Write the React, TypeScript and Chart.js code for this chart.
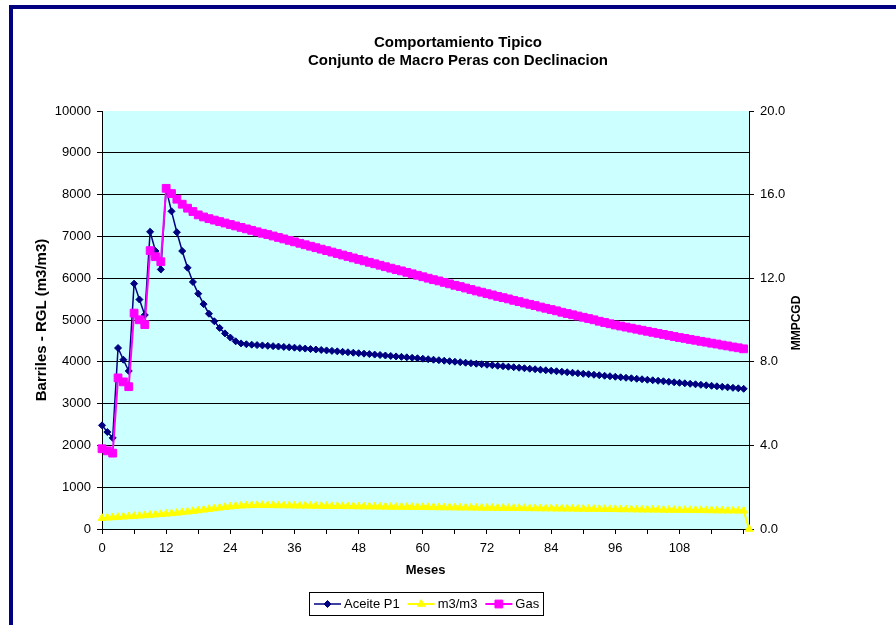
import React, { useEffect, useRef } from 'react';
import { Chart, registerables } from 'chart.js';

Chart.register(...registerables);

const FONT = '"Liberation Sans", Arial, Helvetica, sans-serif';

const titleLines = ['Comportamiento Tipico', 'Conjunto de Macro Peras con Declinacion'];
const xTitle = 'Meses';
const yTitle = 'Barriles - RGL (m3/m3)';
const y2Title = 'MMPCGD';
const seriesNames = ['Aceite P1', 'm3/m3', 'Gas'];
const seriesColors = ['#000080', '#FFFF00', '#FF00FF'];

// months 0..121 (category positions)
const months = Array.from({ length: 122 }, (_, i) => i);

// Aceite P1 (barriles), months 0..120
const aceite = [
  2480, 2320, 2180, 4330, 4050, 3780, 5870, 5490, 5120, 7110, 6650, 6210,
  8130, 7600, 7100, 6650, 6250, 5910, 5630, 5380, 5150, 4970, 4810, 4680,
  4580, 4490, 4440, 4420, 4410, 4400, 4392, 4383, 4374, 4365, 4356, 4347,
  4338, 4327, 4316, 4305, 4294, 4283, 4272, 4261, 4250, 4239, 4228, 4217,
  4206, 4195, 4184, 4173, 4162, 4151, 4140, 4129, 4118, 4107, 4096, 4085,
  4074, 4062, 4050, 4038, 4026, 4014, 4002, 3990, 3978, 3966, 3954, 3942,
  3930, 3918, 3906, 3894, 3882, 3870, 3858, 3846, 3834, 3822, 3810, 3798,
  3786, 3774, 3762, 3750, 3738, 3726, 3714, 3702, 3690, 3678, 3666, 3654,
  3642, 3630, 3618, 3606, 3594, 3582, 3570, 3558, 3546, 3534, 3522, 3510,
  3498, 3486, 3474, 3462, 3450, 3438, 3426, 3414, 3402, 3390, 3378, 3366,
  3354,
];

// RGL m3/m3, months 0..121
const rgl = [
  260, 268, 276, 284, 292, 300, 308, 316, 325, 334, 343, 352,
  362, 373, 385, 398, 412, 427, 442, 458, 474, 490, 506, 521,
  535, 547, 556, 562, 566, 568, 568, 567, 566, 564, 562, 560,
  558, 556, 555, 553, 551, 550, 548, 547, 545, 543, 542, 540,
  538, 537, 535, 534, 532, 530, 529, 527, 526, 524, 523, 521,
  520, 519, 517, 516, 515, 513, 512, 511, 509, 508, 507, 505,
  504, 503, 501, 500, 499, 497, 496, 495, 493, 492, 491, 489,
  488, 487, 485, 484, 483, 481, 480, 478, 477, 475, 474, 472,
  471, 469, 468, 466, 465, 463, 462, 460, 459, 457, 456, 454,
  453, 451, 450, 448, 447, 445, 444, 442, 441, 439, 438, 436,
  435, 0,
];

// Gas MMPCGD, months 0..120
const gas = [
  3.84, 3.74, 3.63, 7.23, 7.04, 6.81, 10.33, 10.01, 9.78, 13.32, 13.03, 12.79,
  16.30, 16.05, 15.78, 15.54, 15.35, 15.19, 15.03, 14.93, 14.85, 14.78, 14.71, 14.64,
  14.57, 14.50, 14.43, 14.36, 14.29, 14.22, 14.15, 14.09, 14.02, 13.95, 13.88, 13.81,
  13.74, 13.67, 13.60, 13.53, 13.46, 13.39, 13.32, 13.25, 13.18, 13.11, 13.04, 12.97,
  12.90, 12.83, 12.76, 12.69, 12.62, 12.55, 12.48, 12.41, 12.35, 12.28, 12.21, 12.14,
  12.07, 12.00, 11.93, 11.87, 11.80, 11.73, 11.66, 11.60, 11.53, 11.46, 11.39, 11.33,
  11.26, 11.20, 11.13, 11.07, 11.01, 10.94, 10.88, 10.81, 10.75, 10.69, 10.62, 10.56,
  10.50, 10.44, 10.37, 10.31, 10.25, 10.19, 10.13, 10.07, 10.01, 9.94, 9.88, 9.82,
  9.76, 9.71, 9.66, 9.61, 9.56, 9.51, 9.46, 9.41, 9.36, 9.31, 9.26, 9.21,
  9.16, 9.12, 9.07, 9.03, 8.98, 8.94, 8.89, 8.85, 8.80, 8.76, 8.71, 8.67,
  8.62,
];

const xMax = 121;
const xStep = 6;
const xLabelStep = 12;
const yMax = 10000;
const yStep = 1000;
const y2Max = 20;
const y2Step = 4;

const toPoints = (vals: number[]) => vals.map((v, i) => ({ x: months[i], y: v }));

function drawMarker(ctx: CanvasRenderingContext2D, style: string, x: number, y: number, color: string) {
  ctx.save();
  ctx.fillStyle = color;
  ctx.strokeStyle = color;
  ctx.lineWidth = 1;
  ctx.beginPath();
  if (style === 'rectRot') {
    const r = 3.5;
    ctx.moveTo(x - r, y);
    ctx.lineTo(x, y - r);
    ctx.lineTo(x + r, y);
    ctx.lineTo(x, y + r);
    ctx.closePath();
  } else if (style === 'triangle') {
    const r = 4.5;
    ctx.moveTo(x, y - r);
    ctx.lineTo(x + r * 0.866, y + r / 2);
    ctx.lineTo(x - r * 0.866, y + r / 2);
    ctx.closePath();
  } else {
    const h = 3.9;
    ctx.rect(x - h, y - h, 2 * h, 2 * h);
  }
  ctx.fill();
  ctx.stroke();
  ctx.restore();
}

const markerStyles = ['rectRot', 'triangle', 'rect'];

const decorPlugin = {
  id: 'decor',
  beforeDraw(chart: any) {
    const { ctx, chartArea: a } = chart;
    ctx.save();
    ctx.fillStyle = '#CCFFFF';
    ctx.fillRect(a.left, a.top, a.right - a.left, a.bottom - a.top);
    ctx.restore();
  },
  afterDraw(chart: any) {
    const { ctx, chartArea: a, width } = chart;
    ctx.save();
    ctx.fillStyle = '#000';
    ctx.textAlign = 'center';
    ctx.textBaseline = 'middle';
    ctx.font = `bold 15px ${FONT}`;
    titleLines.forEach((t, i) => ctx.fillText(t, width / 2, 34 + i * 18));

    ctx.font = `bold 13px ${FONT}`;
    ctx.fillText(xTitle, (a.left + a.right) / 2, 561);

    const cy = (a.top + a.bottom) / 2;
    ctx.save();
    ctx.font = `bold 15px ${FONT}`;
    ctx.translate(29, cy);
    ctx.rotate(-Math.PI / 2);
    ctx.fillText(yTitle, 0, 0);
    ctx.restore();

    ctx.save();
    ctx.font = `bold 12px ${FONT}`;
    ctx.translate(784, cy + 3);
    ctx.rotate(-Math.PI / 2);
    ctx.fillText(y2Title, 0, 0);
    ctx.restore();

    // legend
    ctx.font = `13px ${FONT}`;
    const lineLen = 27;
    const gapAfterLine = 3;
    const gapItem = 8;
    const widths = seriesNames.map((n) => ctx.measureText(n).width);
    const total = widths.reduce((s, w) => s + lineLen + gapAfterLine + w, 0) + gapItem * (seriesNames.length - 1);
    const padX = 4.5;
    const boxW = Math.round(total + 2 * padX);
    const cx = (a.left + a.right) / 2;
    const boxX = Math.round(cx - boxW / 2) + 0.5;
    const boxY = 583.5;
    const boxH = 23;
    const midY = boxY + boxH / 2;
    ctx.strokeStyle = '#000';
    ctx.lineWidth = 1;
    ctx.strokeRect(boxX, boxY, boxW, boxH);
    let x = boxX + padX;
    ctx.textAlign = 'left';
    seriesNames.forEach((n, i) => {
      ctx.strokeStyle = seriesColors[i];
      ctx.lineWidth = i === 0 ? 1.5 : 2;
      ctx.beginPath();
      ctx.moveTo(x, midY);
      ctx.lineTo(x + lineLen, midY);
      ctx.stroke();
      drawMarker(ctx, markerStyles[i], x + lineLen / 2, midY, seriesColors[i]);
      ctx.fillStyle = '#000';
      ctx.fillText(n, x + lineLen + gapAfterLine, midY + 0.5);
      x += lineLen + gapAfterLine + widths[i] + gapItem;
    });
    ctx.restore();
  },
};

export default function App() {
  const ref = useRef<HTMLCanvasElement | null>(null);

  useEffect(() => {
    if (!ref.current) return;
    Chart.defaults.font.family = FONT;
    Chart.defaults.color = '#000';
    const chart = new Chart(ref.current, {
      type: 'line',
      data: {
        datasets: [
          {
            label: seriesNames[0],
            data: toPoints(aceite),
            yAxisID: 'y',
            borderColor: seriesColors[0],
            backgroundColor: seriesColors[0],
            borderWidth: 1.5,
            pointStyle: 'rectRot',
            pointRadius: 3.5,
            pointBorderWidth: 1,
            pointBackgroundColor: seriesColors[0],
            pointBorderColor: seriesColors[0],
            tension: 0,
            order: 3,
            clip: false,
          } as any,
          {
            label: seriesNames[1],
            data: toPoints(rgl),
            yAxisID: 'y',
            borderColor: seriesColors[1],
            backgroundColor: seriesColors[1],
            borderWidth: 2,
            pointStyle: 'triangle',
            pointRadius: 4.5,
            pointBorderWidth: 1,
            pointBackgroundColor: seriesColors[1],
            pointBorderColor: seriesColors[1],
            tension: 0,
            order: 2,
            clip: false,
          } as any,
          {
            label: seriesNames[2],
            data: toPoints(gas),
            yAxisID: 'y2',
            borderColor: seriesColors[2],
            backgroundColor: seriesColors[2],
            borderWidth: 2,
            pointStyle: 'rect',
            pointRadius: 5.5,
            pointBorderWidth: 1,
            pointBackgroundColor: seriesColors[2],
            pointBorderColor: seriesColors[2],
            tension: 0,
            order: 1,
            clip: false,
          } as any,
        ],
      },
      options: {
        responsive: false,
        animation: false,
        devicePixelRatio: 1,
        layout: { padding: { top: 102, left: 0, right: 0, bottom: 0 } },
        plugins: {
          legend: { display: false },
          title: { display: false },
          tooltip: { enabled: false },
        },
        scales: {
          x: {
            type: 'linear',
            min: 0,
            max: xMax,
            ticks: {
              stepSize: xStep,
              includeBounds: false,
              autoSkip: false,
              maxRotation: 0,
              padding: 7,
              color: '#000',
              font: { size: 13, family: FONT },
              callback: (v: any) => (Number(v) % xLabelStep === 0 && Number(v) < 120 ? String(v) : ''),
            },
            grid: { drawOnChartArea: false, drawTicks: true, tickLength: 5, tickColor: '#000' },
            border: { color: '#000', width: 1 },
            afterFit: (s: any) => {
              s.height = 96;
            },
          },
          y: {
            position: 'left',
            min: 0,
            max: yMax,
            ticks: {
              stepSize: yStep,
              padding: 6,
              color: '#000',
              font: { size: 13, family: FONT },
              callback: (v: any) => String(v),
            },
            grid: {
              color: (c: any) => (c.tick && c.tick.value === yMax ? 'rgba(0,0,0,0)' : '#000'),
              tickColor: '#000',
              tickLength: 5,
              lineWidth: 1,
            },
            border: { color: '#000', width: 1 },
            afterFit: (s: any) => {
              s.width = 89;
            },
          },
          y2: {
            position: 'right',
            min: 0,
            max: y2Max,
            ticks: {
              stepSize: y2Step,
              padding: 6,
              color: '#000',
              font: { size: 13, family: FONT },
              callback: (v: any) => Number(v).toFixed(1),
            },
            grid: { drawOnChartArea: false, tickColor: '#000', tickLength: 5 },
            border: { color: '#000', width: 1 },
            afterFit: (s: any) => {
              s.width = 154;
            },
          },
        },
      } as any,
      plugins: [decorPlugin],
    });
    return () => chart.destroy();
  }, []);

  return (
    <div style={{ position: 'fixed', left: 0, top: 0, width: 896, height: 625, overflow: 'hidden', background: '#fff' }}>
      <div
        style={{
          position: 'absolute',
          left: 9,
          top: 5,
          width: 900,
          height: 640,
          borderLeft: '4px solid #000080',
          borderTop: '4px solid #000080',
          background: '#fff',
        }}
      >
        <canvas ref={ref} width={890} height={616} style={{ position: 'absolute', left: 0, top: 0, width: 890, height: 616 }} />
      </div>
    </div>
  );
}
